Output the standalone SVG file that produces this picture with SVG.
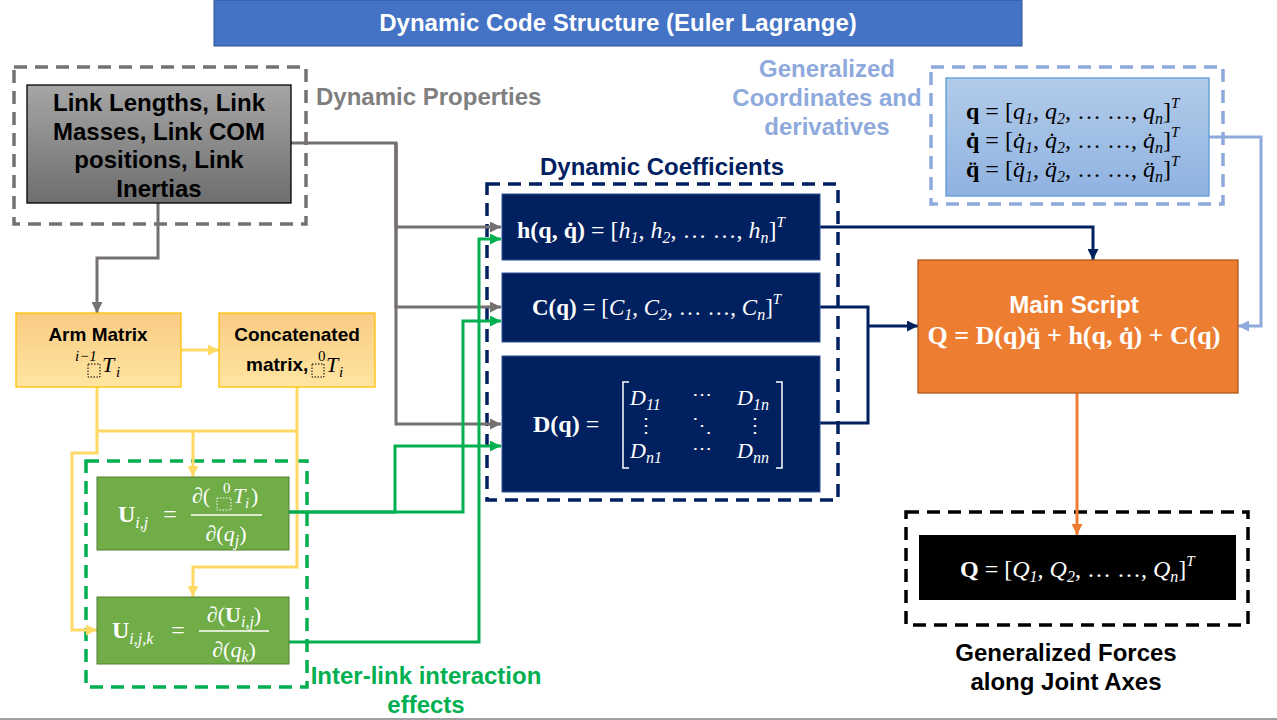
<svg xmlns="http://www.w3.org/2000/svg" width="1277" height="720" viewBox="0 0 1277 720">
<defs>
<style>
.sans{font-family:"Liberation Sans",Arial,sans-serif;font-weight:bold}
.m{font-family:"Liberation Serif","DejaVu Serif",serif;fill:#fff}
.k{fill:#000}
.b{font-weight:bold}
.i{font-style:italic}
.sub{font-size:16px;font-style:italic}
.sup{font-size:15px;font-style:italic}
.dash{fill:none;stroke-width:3.5;stroke-dasharray:13 8}
.con{fill:none;stroke-width:3}
.ph{fill:none;stroke-width:1;stroke-dasharray:1.5 1.5}
</style>
<linearGradient id="gGray" x1="0" y1="0" x2="0" y2="1"><stop offset="0" stop-color="#A6A6A6"/><stop offset="1" stop-color="#6E6E6E"/></linearGradient>
<linearGradient id="gYel" x1="0" y1="0" x2="0" y2="1"><stop offset="0" stop-color="#F9CB82"/><stop offset="1" stop-color="#FFE5A1"/></linearGradient>
<linearGradient id="gBlue" x1="0" y1="0" x2="0" y2="1"><stop offset="0" stop-color="#B2CCEA"/><stop offset="1" stop-color="#8FB2E0"/></linearGradient>
<marker id="aGray" viewBox="0 0 10 10" refX="10" refY="5" markerWidth="11" markerHeight="11" markerUnits="userSpaceOnUse" orient="auto"><path d="M0,0 L10,5 L0,10 z" fill="#767171"/></marker>
<marker id="aGreen" viewBox="0 0 10 10" refX="10" refY="5" markerWidth="11" markerHeight="11" markerUnits="userSpaceOnUse" orient="auto"><path d="M0,0 L10,5 L0,10 z" fill="#00B050"/></marker>
<marker id="aYel" viewBox="0 0 10 10" refX="10" refY="5" markerWidth="11" markerHeight="11" markerUnits="userSpaceOnUse" orient="auto"><path d="M0,0 L10,5 L0,10 z" fill="#FFD966"/></marker>
<marker id="aNavy" viewBox="0 0 10 10" refX="10" refY="5" markerWidth="11" markerHeight="11" markerUnits="userSpaceOnUse" orient="auto"><path d="M0,0 L10,5 L0,10 z" fill="#002060"/></marker>
<marker id="aLB" viewBox="0 0 10 10" refX="10" refY="5" markerWidth="11" markerHeight="11" markerUnits="userSpaceOnUse" orient="auto"><path d="M0,0 L10,5 L0,10 z" fill="#8EA9DB"/></marker>
<marker id="aOr" viewBox="0 0 10 10" refX="10" refY="5" markerWidth="11" markerHeight="11" markerUnits="userSpaceOnUse" orient="auto"><path d="M0,0 L10,5 L0,10 z" fill="#ED7D31"/></marker>
</defs>
<rect width="1277" height="720" fill="#fff"/>
<line x1="0" y1="719" x2="1277" y2="719" stroke="#A0A0A0" stroke-width="2"/>

<g id="title">
<rect x="214" y="0" width="808" height="46" fill="#4472C4" stroke="#2F528F" stroke-width="1"/>
<text class="sans" x="618" y="31" font-size="24" fill="#fff" text-anchor="middle">Dynamic Code Structure (Euler Lagrange)</text>
</g>

<g id="group-dynamic-properties">
<rect class="dash" x="14" y="67" width="292" height="157" stroke="#767171"/>
<text class="sans" x="316" y="105" font-size="24" fill="#7F7F7F">Dynamic Properties</text>
</g>
<g id="group-dynamic-coefficients">
<rect class="dash" x="487" y="184" width="351" height="316" stroke="#002060"/>
<text class="sans" x="662" y="175" font-size="24" fill="#002060" text-anchor="middle">Dynamic Coefficients</text>
</g>
<g id="group-generalized-coordinates">
<rect class="dash" x="931" y="67" width="292" height="137" stroke="#8EA9DB"/>
<text class="sans" font-size="24" fill="#8EA9DB" text-anchor="middle"><tspan x="827" y="77">Generalized</tspan><tspan x="827" y="106">Coordinates and</tspan><tspan x="827" y="135">derivatives</tspan></text>
</g>
<g id="group-interlink">
<rect class="dash" x="86" y="461" width="221" height="226" stroke="#00B050"/>
<text class="sans" font-size="24" fill="#00B050" text-anchor="middle"><tspan x="426" y="684">Inter-link interaction</tspan><tspan x="426" y="713">effects</tspan></text>
</g>
<g id="group-generalized-forces">
<rect class="dash" x="906" y="512" width="342" height="113" stroke="#000"/>
<text class="sans" font-size="24" fill="#000" text-anchor="middle"><tspan x="1066" y="661">Generalized Forces</tspan><tspan x="1066" y="690">along Joint Axes</tspan></text>
</g>

<g id="connectors">
<path class="con" stroke="#767171" d="M291 143 H396 V227 H501" marker-end="url(#aGray)"/>
<path class="con" stroke="#767171" d="M396 143 V307 H501" marker-end="url(#aGray)"/>
<path class="con" stroke="#767171" d="M396 143 V424 H501" marker-end="url(#aGray)"/>
<path class="con" stroke="#767171" d="M158 203 V258 H97 V313" marker-end="url(#aGray)"/>
<path class="con" stroke="#FFD966" d="M181 350 H219" marker-end="url(#aYel)"/>
<path class="con" stroke="#FFD966" d="M97 387 V431 H297"/>
<path class="con" stroke="#FFD966" d="M193 431 V477" marker-end="url(#aYel)"/>
<path class="con" stroke="#FFD966" d="M97 431 V453 H72 V630 H97" marker-end="url(#aYel)"/>
<path class="con" stroke="#FFD966" d="M297 387 V567 H193 V597" marker-end="url(#aYel)"/>
<path class="con" stroke="#00B050" d="M289 512 H395 V446 H501" marker-end="url(#aGreen)"/>
<path class="con" stroke="#00B050" d="M289 512 H463 V321 H501" marker-end="url(#aGreen)"/>
<path class="con" stroke="#00B050" d="M289 642 H479 V239 H501" marker-end="url(#aGreen)"/>
<path class="con" stroke="#002060" d="M820 227 H1093 V260" marker-end="url(#aNavy)"/>
<path class="con" stroke="#002060" d="M820 307 H868 V423 H820"/>
<path class="con" stroke="#002060" d="M868 326 H918" marker-end="url(#aNavy)"/>
<path class="con" stroke="#8EA9DB" d="M1209 137 H1261 V326 H1238" marker-end="url(#aLB)"/>
<path class="con" stroke="#ED7D31" d="M1077 393 V535" marker-end="url(#aOr)"/>
</g>

<g id="link-properties">
<rect x="27" y="85" width="264" height="118" fill="url(#gGray)" stroke="#000" stroke-width="1.3"/>
<text class="sans" font-size="24" fill="#000" text-anchor="middle"><tspan x="159" y="111">Link Lengths, Link</tspan><tspan x="159" y="140">Masses, Link COM</tspan><tspan x="159" y="168">positions, Link</tspan><tspan x="159" y="197">Inertias</tspan></text>
</g>

<g id="arm-matrix">
<rect x="16" y="313" width="165" height="74" fill="url(#gYel)" stroke="#FFC000" stroke-width="1.3"/>
<text class="sans" x="98" y="341" font-size="19" fill="#000" text-anchor="middle">Arm Matrix</text>
<text class="m k i" x="75" y="361" font-size="15">i−1</text>
<rect class="ph" x="88" y="364" width="12" height="13" stroke="#000"/>
<text class="m k i" x="102" y="372" font-size="22">T</text>
<text class="m k i" x="116" y="377" font-size="15">i</text>
</g>

<g id="concatenated-matrix">
<rect x="219" y="313" width="156" height="74" fill="url(#gYel)" stroke="#FFC000" stroke-width="1.3"/>
<text class="sans" x="297" y="341" font-size="19" fill="#000" text-anchor="middle">Concatenated</text>
<text class="sans" x="246" y="371" font-size="19" fill="#000">matrix,</text>
<rect class="ph" x="312" y="364" width="12" height="13" stroke="#000"/>
<text class="m k" x="318" y="361" font-size="15">0</text>
<text class="m k i" x="326" y="372" font-size="22">T</text>
<text class="m k i" x="339" y="377" font-size="15">i</text>
</g>

<g id="u-ij">
<rect x="97" y="477" width="192" height="73" fill="#70AD47" stroke="#507E32" stroke-width="1"/>
<text class="m" x="118" y="522" font-size="24"><tspan class="b">U</tspan><tspan class="sub" dy="6">i,j</tspan></text>
<text class="m" x="170" y="522" font-size="24" text-anchor="middle">=</text>
<text class="m" x="192" y="503" font-size="22">∂(</text>
<rect class="ph" x="217" y="498" width="14" height="12" stroke="#fff"/>
<text class="m" x="223" y="493" font-size="15">0</text>
<text class="m i" x="233" y="503" font-size="22">T</text>
<text class="m i" x="245" y="508" font-size="15">i</text>
<text class="m" x="251" y="503" font-size="22">)</text>
<line x1="191" y1="515" x2="262" y2="515" stroke="#fff" stroke-width="1.5"/>
<text class="m" x="226" y="541" font-size="22" text-anchor="middle">∂(<tspan class="i">q</tspan><tspan class="sub" dy="5">j</tspan><tspan dy="-5">)</tspan></text>
</g>

<g id="u-ijk">
<rect x="97" y="597" width="192" height="67" fill="#70AD47" stroke="#507E32" stroke-width="1"/>
<text class="m" x="112" y="638" font-size="24"><tspan class="b">U</tspan><tspan class="sub" dy="6">i,j,k</tspan></text>
<text class="m" x="178" y="638" font-size="24" text-anchor="middle">=</text>
<text class="m" x="234" y="622" font-size="22" text-anchor="middle">∂(<tspan class="b">U</tspan><tspan class="sub" dy="5">i,j</tspan><tspan dy="-5">)</tspan></text>
<line x1="199" y1="631" x2="269" y2="631" stroke="#fff" stroke-width="1.5"/>
<text class="m" x="234" y="657" font-size="22" text-anchor="middle">∂(<tspan class="i">q</tspan><tspan class="sub" dy="5">k</tspan><tspan dy="-5">)</tspan></text>
</g>

<g id="h-vector">
<rect x="502" y="194" width="318" height="66" fill="#002060" stroke="#2F5597" stroke-width="1"/>
<text class="m" x="517" y="238" font-size="24"><tspan class="b">h(q, q̇)</tspan> =  [<tspan class="i">h</tspan><tspan class="sub" dy="5">1</tspan><tspan dy="-5">, </tspan><tspan class="i">h</tspan><tspan class="sub" dy="5">2</tspan><tspan dy="-5">, … …, </tspan><tspan class="i">h</tspan><tspan class="sub" dy="5">n</tspan><tspan dy="-5">]</tspan><tspan class="sup" dy="-11">T</tspan></text>
</g>

<g id="c-vector">
<rect x="502" y="273" width="318" height="69" fill="#002060" stroke="#2F5597" stroke-width="1"/>
<text class="m" x="532" y="315" font-size="23"><tspan class="b">C(q)</tspan> = [<tspan class="i">C</tspan><tspan class="sub" dy="5">1</tspan><tspan dy="-5">, </tspan><tspan class="i">C</tspan><tspan class="sub" dy="5">2</tspan><tspan dy="-5">, … …, </tspan><tspan class="i">C</tspan><tspan class="sub" dy="5">n</tspan><tspan dy="-5">]</tspan><tspan class="sup" dy="-11">T</tspan></text>
</g>

<g id="d-matrix">
<rect x="502" y="356" width="318" height="136" fill="#002060" stroke="#2F5597" stroke-width="1"/>
<text class="m" x="533" y="432" font-size="24"><tspan class="b">D(q)</tspan> =</text>
<path d="M629 382 H623 V468 H629 M776 382 H782 V468 H776" fill="none" stroke="#fff" stroke-width="1.5"/>
<text class="m i" x="630" y="405" font-size="22">D<tspan class="sub" dy="5">11</tspan></text>
<text class="m" x="702" y="401" font-size="20" text-anchor="middle">⋯</text>
<text class="m i" x="737" y="405" font-size="22">D<tspan class="sub" dy="5">1n</tspan></text>
<text class="m" x="646" y="432" font-size="20" text-anchor="middle">⋮</text>
<text class="m" x="702" y="432" font-size="20" text-anchor="middle">⋱</text>
<text class="m" x="755" y="432" font-size="20" text-anchor="middle">⋮</text>
<text class="m i" x="630" y="458" font-size="22">D<tspan class="sub" dy="5">n1</tspan></text>
<text class="m" x="702" y="455" font-size="20" text-anchor="middle">⋯</text>
<text class="m i" x="737" y="458" font-size="22">D<tspan class="sub" dy="5">nn</tspan></text>
</g>

<g id="generalized-coordinates">
<rect x="946" y="78" width="263" height="118" fill="url(#gBlue)" stroke="#5B9BD5" stroke-width="1.3"/>
<text class="m k" x="966" y="119" font-size="24"><tspan class="b">q</tspan> = [<tspan class="i">q</tspan><tspan class="sub" dy="5">1</tspan><tspan dy="-5">, </tspan><tspan class="i">q</tspan><tspan class="sub" dy="5">2</tspan><tspan dy="-5">, … …, </tspan><tspan class="i">q</tspan><tspan class="sub" dy="5">n</tspan><tspan dy="-5">]</tspan><tspan class="sup" dy="-11">T</tspan></text>
<text class="m k" x="966" y="148" font-size="24"><tspan class="b">q̇</tspan> = [<tspan class="i">q̇</tspan><tspan class="sub" dy="5">1</tspan><tspan dy="-5">, </tspan><tspan class="i">q̇</tspan><tspan class="sub" dy="5">2</tspan><tspan dy="-5">, … …, </tspan><tspan class="i">q̇</tspan><tspan class="sub" dy="5">n</tspan><tspan dy="-5">]</tspan><tspan class="sup" dy="-11">T</tspan></text>
<text class="m k" x="966" y="177" font-size="24"><tspan class="b">q̈</tspan> = [<tspan class="i">q̈</tspan><tspan class="sub" dy="5">1</tspan><tspan dy="-5">, </tspan><tspan class="i">q̈</tspan><tspan class="sub" dy="5">2</tspan><tspan dy="-5">, … …, </tspan><tspan class="i">q̈</tspan><tspan class="sub" dy="5">n</tspan><tspan dy="-5">]</tspan><tspan class="sup" dy="-11">T</tspan></text>
</g>

<g id="main-script">
<rect x="918" y="260" width="320" height="133" fill="#ED7D31" stroke="#AE5A21" stroke-width="1.3"/>
<text class="sans" x="1074" y="313" font-size="24" fill="#fff" text-anchor="middle">Main Script</text>
<text class="m b" x="1074" y="344" font-size="26" text-anchor="middle">Q = D(q)q̈ + h(q, q̇) + C(q)</text>
</g>

<g id="generalized-forces">
<rect x="919" y="535" width="317" height="65" fill="#000"/>
<text class="m" x="960" y="577" font-size="24"><tspan class="b">Q</tspan> = [<tspan class="i">Q</tspan><tspan class="sub" dy="5">1</tspan><tspan dy="-5">, </tspan><tspan class="i">Q</tspan><tspan class="sub" dy="5">2</tspan><tspan dy="-5">, … …, </tspan><tspan class="i">Q</tspan><tspan class="sub" dy="5">n</tspan><tspan dy="-5">]</tspan><tspan class="sup" dy="-11">T</tspan></text>
</g>
</svg>
